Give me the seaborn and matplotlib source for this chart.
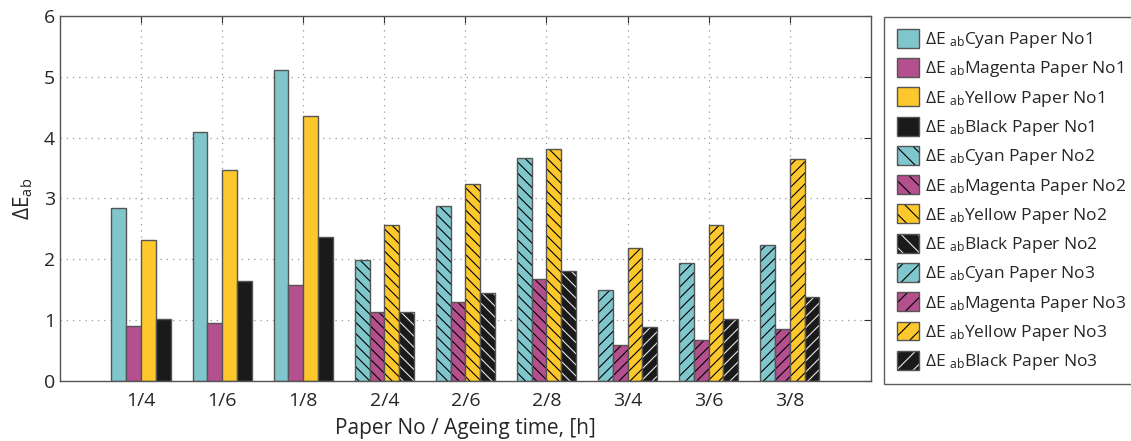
import pandas as pd
import numpy as np
import matplotlib
matplotlib.use('Agg')
import matplotlib.pyplot as plt
import seaborn as sns
from matplotlib.patches import Patch

# data
groups = ['1/4', '1/6', '1/8', '2/4', '2/6', '2/8', '3/4', '3/6', '3/8']
cyan = [2.85, 4.09, 5.11, 1.99, 2.87, 3.67, 1.49, 1.94, 2.24]
magenta = [0.91, 0.95, 1.58, 1.13, 1.30, 1.68, 0.59, 0.67, 0.86]
yellow = [2.31, 3.47, 4.36, 2.57, 3.24, 3.82, 2.19, 2.57, 3.65]
black = [1.02, 1.65, 2.36, 1.14, 1.45, 1.80, 0.88, 1.02, 1.38]
inks = ['Cyan', 'Magenta', 'Yellow', 'Black']
papers = ['No1', 'No2', 'No3']

ink_colors = {'Cyan': '#80c6cd', 'Magenta': '#b5508e', 'Yellow': '#fdc82c', 'Black': '#1a1a1a'}
paper_hatch = {'No1': '', 'No2': '\\\\\\', 'No3': '///'}
legend_hatch = {'No1': '', 'No2': '\\\\', 'No3': '//'}


def hatch_color(ink):
    return (0.9, 0.9, 0.9, 1) if ink == 'Black' else (0, 0, 0, 1)


def main():
    sns.set_style('white')
    plt.rcParams['font.family'] = ['Open Sans', 'DejaVu Sans']
    plt.rcParams['mathtext.fontset'] = 'custom'
    plt.rcParams['mathtext.rm'] = 'Open Sans'
    plt.rcParams['mathtext.it'] = 'Open Sans:italic'
    plt.rcParams['hatch.linewidth'] = 0.8

    values = {'Cyan': cyan, 'Magenta': magenta, 'Yellow': yellow, 'Black': black}
    rows = []
    for ink in inks:
        for g, v in zip(groups, values[ink]):
            rows.append({'group': g, 'ink': ink, 'value': v})
    df = pd.DataFrame(rows)

    fig = plt.figure(figsize=(11.31, 4.41), dpi=100)
    ax = fig.add_axes([0.053, 0.136, 0.717, 0.828])

    sns.barplot(data=df, x='group', y='value', hue='ink', order=groups, hue_order=inks,
                palette=ink_colors, width=0.73, saturation=1, legend=False,
                edgecolor='#555555', linewidth=1.0, ax=ax, errorbar=None)

    # hatch depends on paper number (group index // 3)
    for ink, container in zip(inks, ax.containers):
        for i, bar in enumerate(container):
            paper = papers[i // 3]
            bar.set_hatch(paper_hatch[paper])
            bar._hatch_color = hatch_color(ink)

    ax.set_xlim(-1, 9)
    ax.set_ylim(0, 6)
    ax.set_yticks(range(0, 7))
    ax.set_xlabel('Paper No / Ageing time, [h]', fontsize=15, labelpad=6)
    ax.set_ylabel('ΔE$_{\\mathrm{ab}}$', fontsize=15, labelpad=6)
    ax.tick_params(axis='both', which='both', direction='in', length=5, labelsize=14,
                   top=True, right=True, color='#333333')
    ax.tick_params(axis='x', pad=8)
    ax.grid(True, linestyle=(0, (1, 4)), color='#999999', linewidth=0.9)
    for s in ax.spines.values():
        s.set_color('#555555')
        s.set_linewidth(1.0)

    handles = []
    labels = []
    for paper in papers:
        for ink in inks:
            h = Patch(facecolor=ink_colors[ink], edgecolor='#555555', hatch=legend_hatch[paper],
                      linewidth=1.0)
            h._hatch_color = hatch_color(ink)
            handles.append(h)
            labels.append('ΔE $_{\\mathrm{ab}}$' + f'{ink} Paper {paper}')

    leg = fig.legend(handles, labels, loc='upper left', bbox_to_anchor=(0.782, 0.962),
                     fontsize=12.5, frameon=True, fancybox=False, edgecolor='#333333',
                     handlelength=1.3, handleheight=1.3, labelspacing=0.46, handletextpad=0.35,
                     borderpad=0.7, borderaxespad=0)
    leg.get_frame().set_linewidth(1.0)

    fig.savefig('out.png', dpi=100)


if __name__ == '__main__':
    main()
